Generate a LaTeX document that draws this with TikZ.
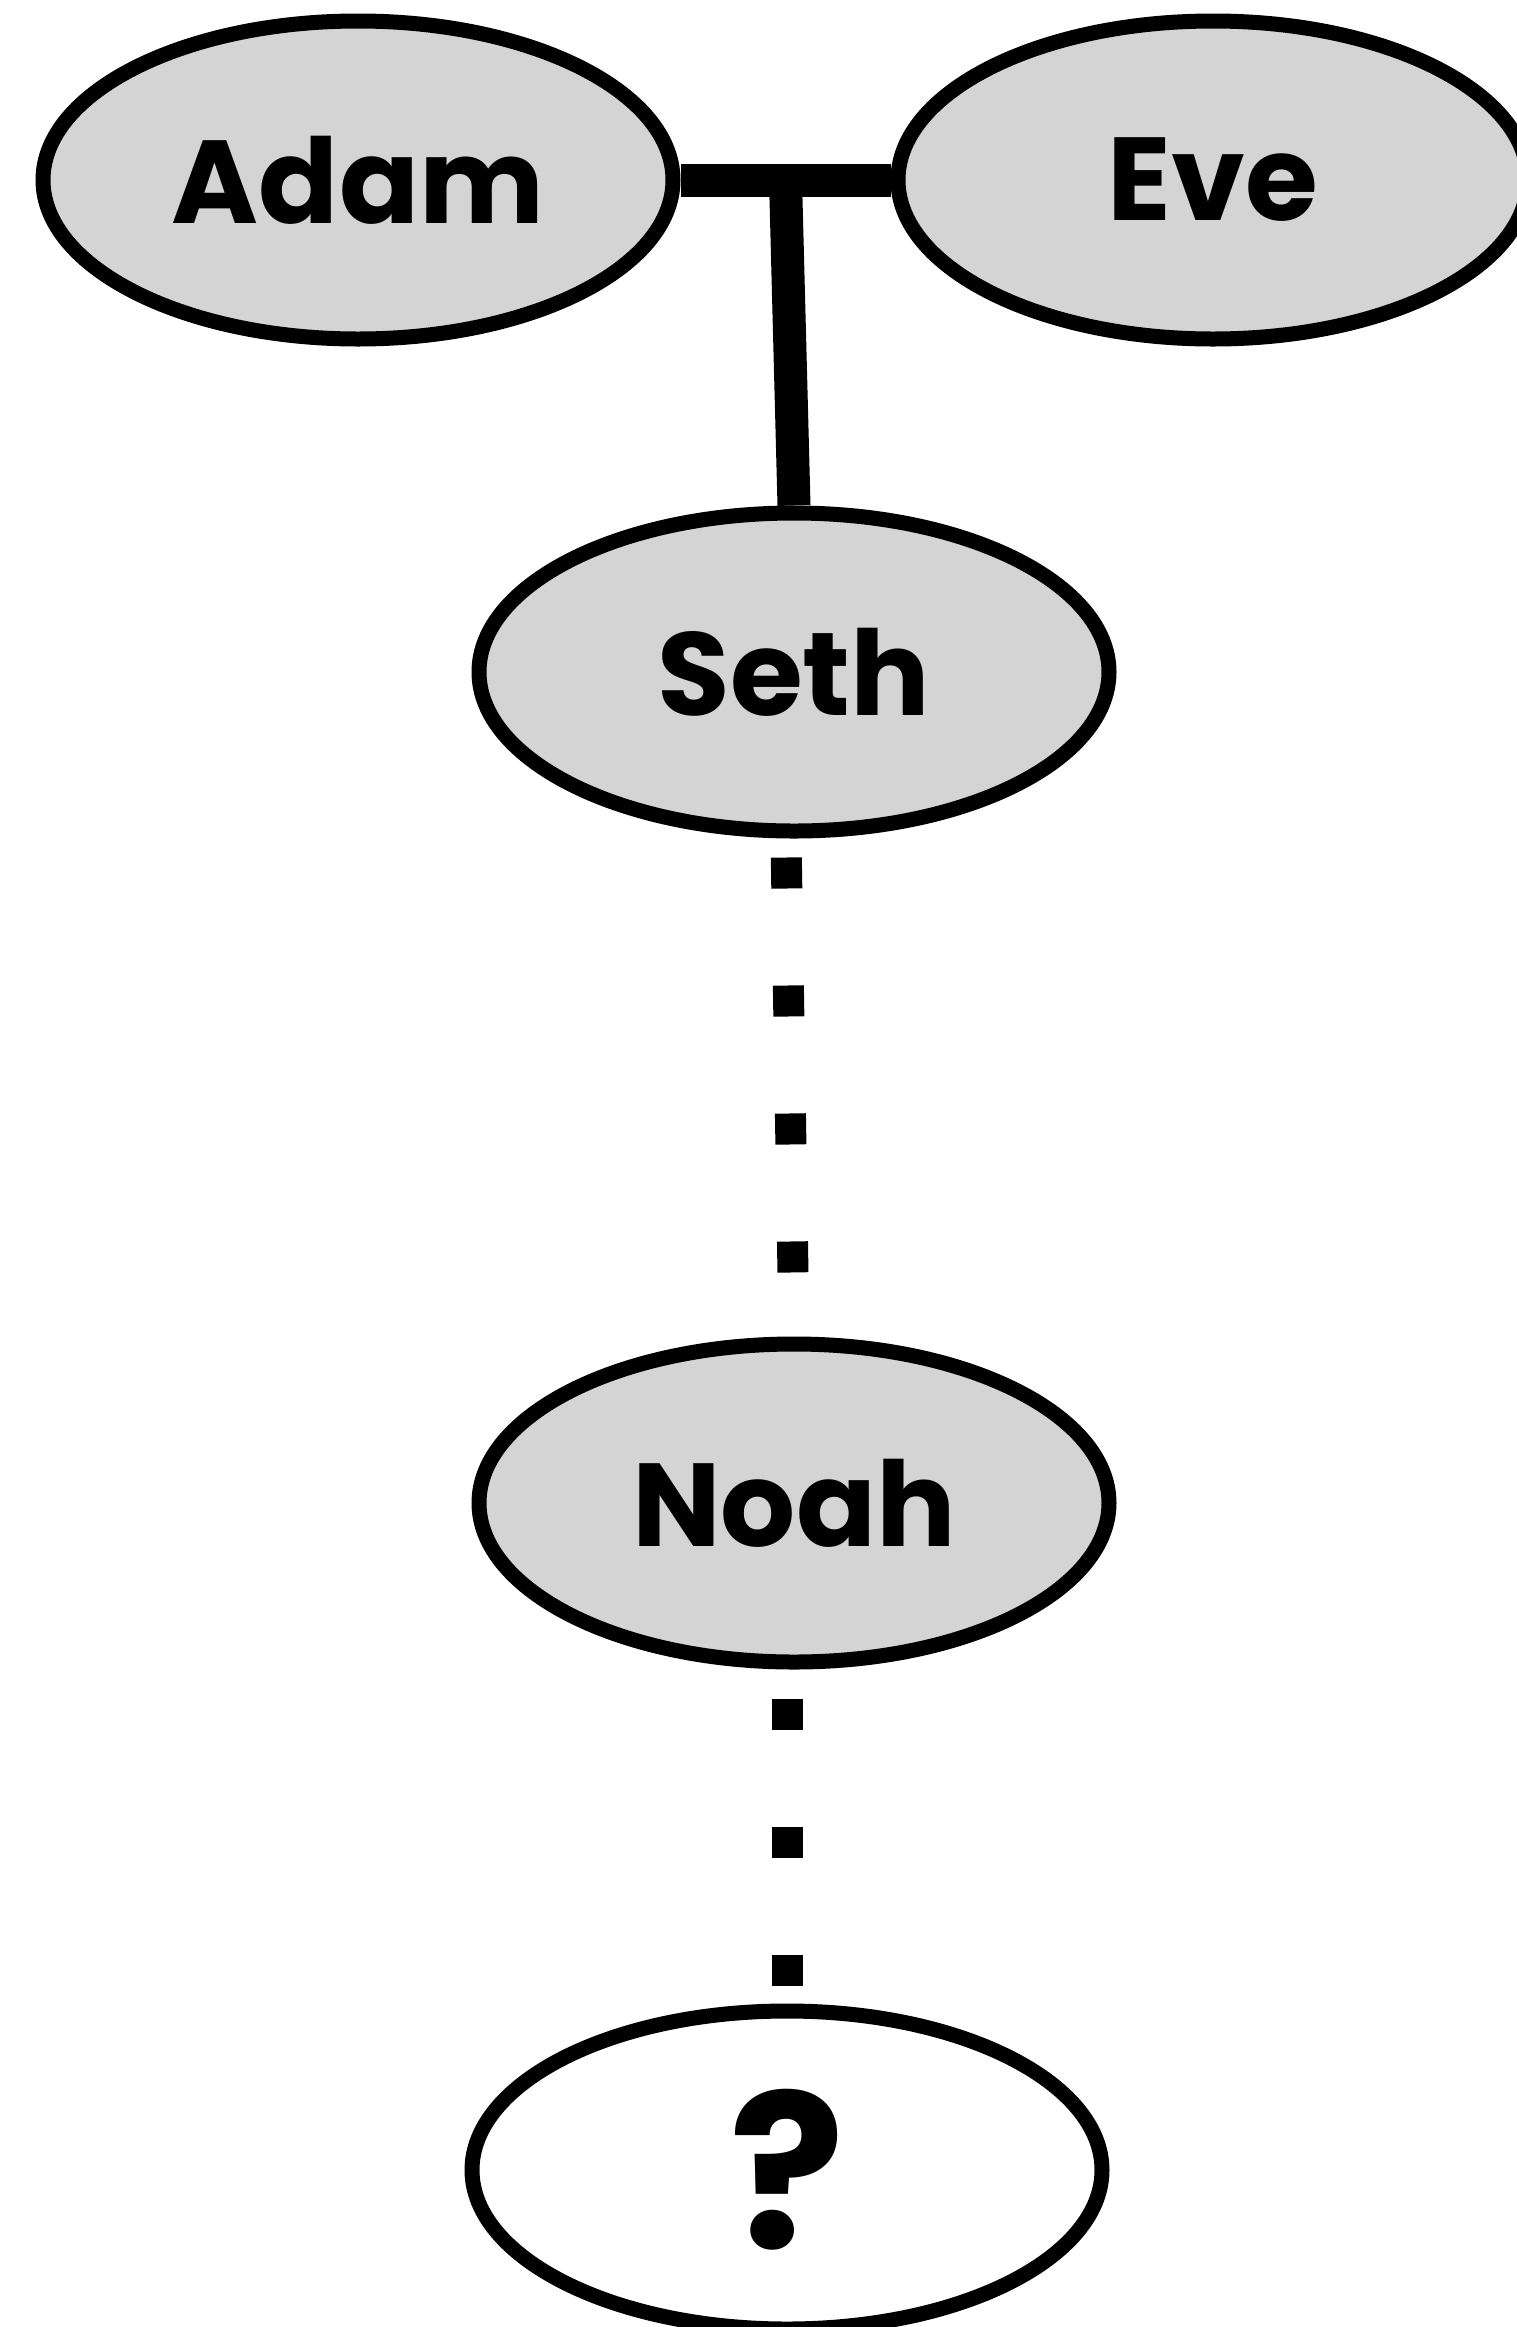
\documentclass[tikz,border=0pt]{standalone}
\usepackage{fontspec}
\setmainfont{Poppins}
\usetikzlibrary{shapes.geometric, calc, backgrounds}
\definecolor{persongray}{RGB}{212,212,212}

\begin{document}
\begin{tikzpicture}[x=1pt, y=-1pt,
  person/.style={ellipse, draw, line width=15pt, fill=persongray, minimum width=630pt, minimum height=318pt, inner sep=0pt, font=\fontsize{118}{120}\selectfont\bfseries},
  unknown/.style={person, fill=white, font=\fontsize{215}{220}\selectfont\bfseries},
  lineage/.style={line width=31pt, dash pattern=on 31pt off 97pt}]
\useasboundingbox (0, 0) rectangle (1516, 2327);
% 人物
\node[person] (adam) at (358, 180) {Adam};
\node[person] (eve) at (1213, 180) {Eve};
\node[person] (seth) at (794, 672) {Seth};
\node[person] (noah) at (794, 1503) {Noah};
\node[unknown] (q) at (787, 2170) {?};
\coordinate (union) at ($(adam.east)!0.5!(eve.west)$);
% 连线
\begin{scope}[on background layer]
\draw [line width=33pt](adam.east) -- (eve.west);
\draw [line width=33pt](union) -- (seth.north);
\draw [lineage, dash phase=109pt]([xshift=-8pt]seth.south) -- (noah.north);
\draw [lineage, dash phase=99pt]([xshift=-7pt]noah.south) -- (q.north);
\end{scope}
\end{tikzpicture}
\end{document}
